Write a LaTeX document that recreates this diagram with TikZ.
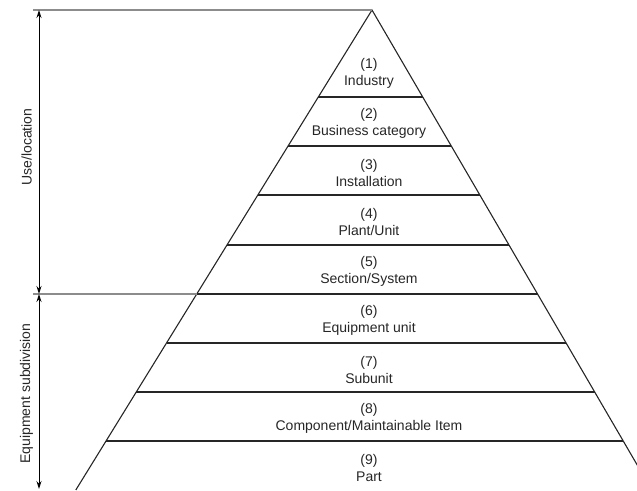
\documentclass[tikz,border=0pt]{standalone}
\usepackage{fontspec}
\setmainfont{Liberation Sans}
\usetikzlibrary{arrows.meta}
\begin{document}
\begin{tikzpicture}[x=1pt,y=-1pt,
  edge/.style={line width=1.1pt, draw=black!85},
  guide/.style={line width=1.4pt, draw=black!45},
  dim/.style={line width=0.9pt, draw=black, {Stealth[length=8pt,width=5pt]}-{Stealth[length=8pt,width=5pt]}},
  lbl/.style={align=center, inner sep=0pt, font=\fontsize{14}{17}\selectfont, text=black!85},
  side/.style={inner sep=0pt, rotate=90, font=\fontsize{14}{17}\selectfont, text=black!85}]
\useasboundingbox (0,0) rectangle (637,490);
\coordinate (apex) at (372,10);
\coordinate (baseL) at (75.8,490);
\coordinate (baseR) at (651.8,490);
\foreach \i/\y in {1/97,2/146,3/195,4/245,5/294,6/343,7/392,8/441}{
  \coordinate (l\i) at ({372-0.617*(\y-10)},\y);
  \coordinate (r\i) at ({372+0.583*(\y-10)},\y);
}
\begin{scope}
  \clip (0,0) rectangle (637,490);
  \draw[edge] (baseL) -- (apex) -- (baseR);
  \foreach \i in {1,...,8}{ \draw[edge] (l\i) -- (r\i); }
\end{scope}
% guide lines
\coordinate (gT) at (33,10);
\coordinate (gM) at (33,294);
\draw[guide] (gT) -- (apex);
\draw[guide] (gM) -- (l5);
% dimension arrows
\coordinate (aT) at (39,10);
\coordinate (aM) at (39,294);
\coordinate (aB) at (39,489);
\draw[dim] (aT) -- (aM);
\draw[dim] (aM) -- (aB);
\node[side] (use) at (26.5,147) {Use/location};
\node[side] (equip) at (26.5,393.5) {Equipment subdivision};
% level labels
\node[lbl] (t1) at (369,73.5) {(1)\\Industry};
\node[lbl] (t2) at (369,123.5) {(2)\\Business category};
\node[lbl] (t3) at (369,172.5) {(3)\\Installation};
\node[lbl] (t4) at (369,221.5) {(4)\\Plant/Unit};
\node[lbl] (t5) at (369,271.5) {(5)\\Section/System};
\node[lbl] (t6) at (369,320.5) {(6)\\Equipment unit};
\node[lbl] (t7) at (369,369.5) {(7)\\Subunit};
\node[lbl] (t8) at (369,418.5) {(8)\\Component/Maintainable Item};
\node[lbl] (t9) at (369,467.5) {(9)\\Part};
\end{tikzpicture}
\end{document}
